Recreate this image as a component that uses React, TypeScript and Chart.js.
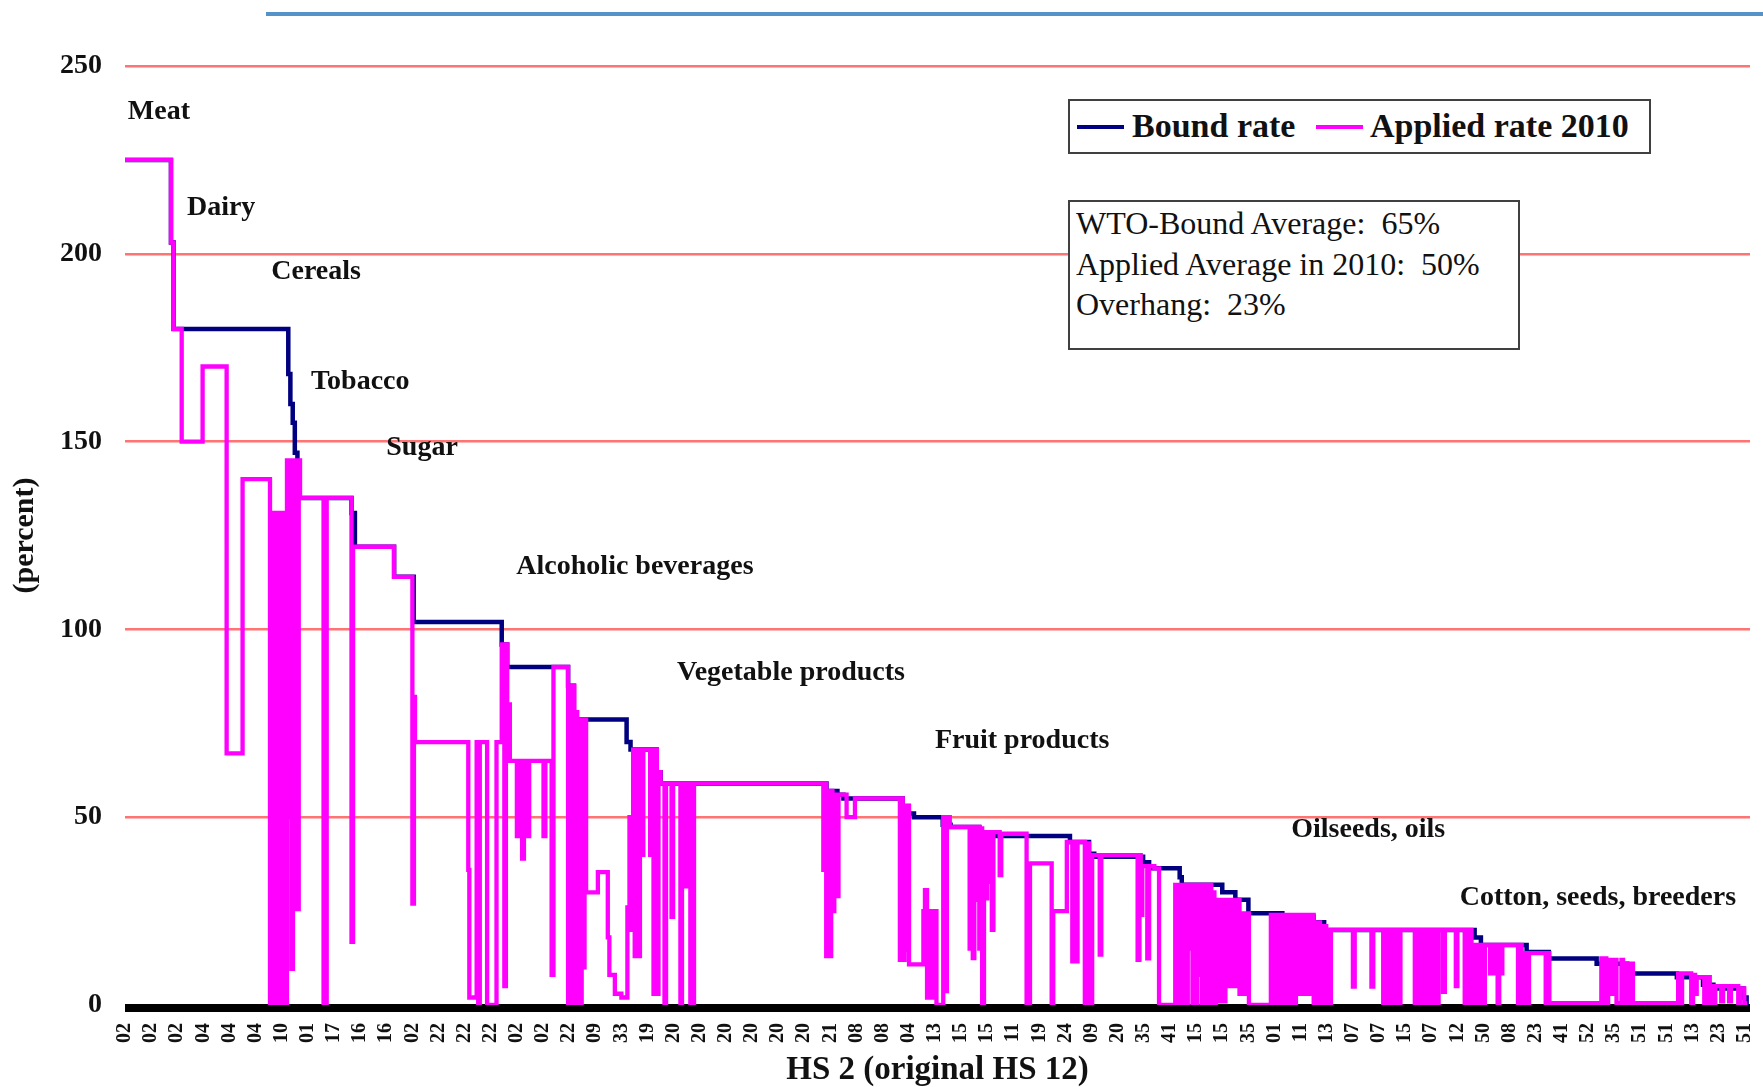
import React, { useEffect, useRef } from 'react';
import { Chart, registerables } from 'chart.js';

Chart.register(...registerables);

const FONT = "'Liberation Serif', 'Times New Roman', Times, serif";

// HS2 chapter label shown for every 10th tariff line (sorted by bound rate)
const hsLabels = [
  '02', '02', '02', '04', '04', '04', '10', '01', '17', '16', '16', '02', '22', '22', '22', '02',
  '02', '22', '09', '33', '19', '20', '20', '20', '20', '20', '20', '21', '08', '08', '04', '13',
  '15', '15', '11', '19', '24', '09', '20', '35', '41', '15', '15', '35', '01', '11', '13', '07',
  '07', '15', '07', '12', '50', '08', '23', '41', '52', '35', '51', '51', '13', '23', '51',
];

// [tariff-line index, rate %] — step series (value holds until the next index)
const boundRate: [number, number][] = [
  [0, 225], [17.6, 203], [18.6, 180], [62.5, 168], [63.3, 160], [64.2, 155], [65, 147], [66, 135],
  [86.7, 131], [88, 122], [103, 114], [110.5, 102], [144.2, 96], [146.3, 90], [169.6, 85], [171.8, 76],
  [192, 70], [193.5, 68], [203.5, 62], [205, 59], [268.5, 57], [272.7, 56], [275, 55], [297.7, 53],
  [300, 51], [302, 50], [313, 48], [316, 47.4], [327, 46], [333, 45], [361.7, 43.4], [369, 40.3],
  [371, 39.5], [389.7, 38], [392, 36.4], [403.7, 34], [404.5, 32], [420, 30], [425, 28], [430, 24.4],
  [443, 23.5], [455, 22], [459, 20], [516.6, 18], [519, 16], [536.5, 14.1], [545, 12.4], [563.3, 11],
  [575, 8.4], [594, 7.4], [604, 5.4], [608, 4.4], [619.5, 2], [620.7, 0],
];

const appliedRate: [number, number][] = [
  [0, 225], [17.6, 203], [18.6, 180], [21.7, 150], [29.7, 170], [38.9, 67], [45, 140],
  [55.5, 0], [56.1, 131], [56.7, 0], [57.3, 131], [57.9, 0], [58.5, 131], [59.1, 0], [59.7, 131],
  [60.3, 0], [60.9, 131], [61.5, 0], [62, 145], [62.6, 50], [63.2, 145], [63.7, 9.6], [64.3, 145],
  [64.8, 41], [65.4, 145], [65.9, 25.5], [66.5, 145], [67, 135], [76, 0], [77.2, 135],
  [86.7, 16.8], [87.3, 122], [103, 114], [110, 27], [110.6, 82], [111, 70],
  [131.4, 36], [131.8, 2], [134.6, 70], [135.2, 0], [135.8, 70], [138.6, 0], [142.2, 70],
  [144.2, 96], [145.2, 5], [145.8, 96], [146.3, 80], [147.3, 65],
  [150, 45], [150.7, 65], [152, 39], [152.7, 65], [154, 45], [154.7, 65], [160.2, 45], [160.9, 65],
  [163.3, 8], [164, 90], [169.6, 0], [170.3, 85], [170.8, 0], [171.5, 85], [172, 0], [172.6, 78],
  [173.1, 0], [173.7, 76], [174.2, 0], [174.8, 76], [175.3, 10], [175.9, 76], [176.5, 30],
  [181, 35.4], [184.8, 18], [185.4, 8], [187.5, 3], [190, 2], [192.3, 26], [193.1, 50], [193.8, 20],
  [194.5, 68], [195.1, 13], [195.8, 68], [196.4, 13], [197.1, 68], [197.7, 40], [198.4, 68],
  [201, 40], [201.6, 68], [202.3, 3], [202.9, 68], [203.6, 3], [204.2, 62], [205, 59],
  [206.5, 0], [207.1, 59], [209.2, 23.5], [209.8, 59], [212.6, 0], [213.2, 59], [214.2, 31.6],
  [214.8, 59], [216.4, 0], [217.8, 59], [267.3, 36], [268, 59], [268.4, 13], [269.1, 57],
  [269.6, 13], [270.3, 57], [270.8, 25], [271.5, 56], [272.3, 29], [273.1, 56], [276.2, 50],
  [279.4, 55], [296.6, 12], [297.2, 55], [297.7, 12], [298.4, 53], [298.9, 14.7], [299.6, 53],
  [300.1, 10.8], [305.6, 25], [306.2, 30.6], [307, 2], [307.6, 25], [308.2, 2], [308.8, 25],
  [309.4, 2], [310, 25], [310.6, 0], [313.2, 50], [313.9, 3.7], [314.6, 50], [315.7, 47.4],
  [323.3, 15], [323.9, 47.4], [324.5, 12.5], [325.1, 47.4], [325.7, 28], [326.3, 47.4], [327, 15],
  [327.6, 47], [328.1, 0], [328.8, 46], [329.4, 28.4], [330, 46], [330.6, 32.8], [331.2, 46],
  [331.8, 20], [332.4, 46], [334.8, 34.6], [335.4, 45.6], [345.1, 0], [346.4, 37.7], [354.7, 0],
  [355.3, 25], [360.5, 43.4], [362.6, 11.6], [363.2, 43.4], [364, 11.6], [364.6, 43.4], [367.4, 0],
  [368.2, 43], [369, 0], [370.2, 39.9], [373.1, 13.4], [373.7, 39.9], [387.6, 12], [388.3, 39.9],
  [388.8, 24], [389.4, 37], [391.3, 12.4], [392, 37], [394, 36.4], [395.8, 0],
  [402, 32], [402.6, 0], [403.2, 32], [403.8, 0], [404.4, 32], [405, 0], [405.6, 32], [406.2, 0],
  [406.8, 32], [407.4, 15], [408, 32], [408.6, 0], [409.2, 32], [409.8, 0], [410.4, 32], [411, 8],
  [411.6, 32], [412.2, 0], [412.8, 32], [413.4, 0], [414, 32], [414.6, 0], [415.2, 32], [415.8, 0],
  [416.4, 30], [417, 0], [417.6, 28], [418.2, 1], [418.8, 28], [419.4, 1], [420, 28], [420.6, 1],
  [421.2, 28], [421.8, 5], [422.4, 28], [423, 5], [423.6, 28], [424.2, 5], [424.8, 28], [425.4, 5],
  [426, 28], [426.6, 3], [427.2, 24.4], [427.8, 3], [428.4, 24.4], [429, 3], [429.6, 24.4],
  [430.2, 0], [438.6, 24], [439.2, 0], [439.8, 24], [440.4, 0], [441, 24], [441.6, 0], [442.2, 24],
  [442.8, 0], [443.4, 24], [444, 0], [444.6, 24], [445.2, 0], [445.8, 24], [446.4, 0], [447, 24],
  [447.6, 0], [448.2, 24], [449.6, 3], [450.2, 24], [451.4, 3], [452, 24], [453, 3], [453.6, 24],
  [455, 0], [455.6, 22], [456.2, 0], [456.8, 22], [457.4, 0], [458, 21], [458.6, 0], [459.2, 21],
  [459.8, 0], [460.4, 20], [461, 0], [461.6, 20], [470, 4.9], [470.7, 20], [477.1, 4.9], [477.8, 20],
  [481.6, 0], [482.2, 20], [482.8, 0], [483.4, 20], [484, 0], [484.6, 20], [485.2, 0], [485.8, 20],
  [486.4, 0], [487, 20], [487.6, 0], [488.2, 20], [493.7, 0], [494.3, 20], [494.9, 0], [495.5, 20],
  [496.1, 0], [496.7, 20], [497.3, 0], [497.9, 20], [498.5, 0], [499.1, 20], [499.7, 0], [500.3, 20],
  [500.9, 0], [501.5, 20], [502.1, 0], [502.8, 20], [504.5, 3.5], [505.2, 20], [509.4, 5], [510, 20],
  [512.8, 0], [513.5, 20], [514.2, 0], [514.8, 20], [515.4, 0], [516.1, 16], [517.5, 0], [518.1, 16],
  [518.7, 0], [519.3, 16], [519.9, 0], [520.5, 16], [522.5, 8.4], [523.1, 16], [524, 8.4], [524.6, 16],
  [525.4, 0], [526, 16], [526.6, 8.4], [527.2, 16], [533.2, 0], [534, 16], [534.6, 0], [535.2, 13.8],
  [536.6, 0], [537.4, 13.8], [543.8, 0], [544.6, 13.8], [545.2, 0.5], [565.1, 12.4], [565.7, 0.5],
  [566.4, 12.4], [567, 0.5], [567.7, 12], [568.3, 3], [569, 12], [569.6, 3], [570.3, 12], [570.9, 0.5],
  [572.8, 12], [573.4, 0.5], [574, 11], [574.6, 0.5], [575.3, 11], [575.9, 0.5], [576.6, 11],
  [577.2, 0.5], [594.5, 8.4], [595.2, 0.5], [596, 8.4], [599.5, 0.5], [600.2, 8], [601, 3],
  [601.6, 7.4], [604.5, 0.5], [605.3, 7.4], [606.6, 0.5], [607.3, 5], [608, 0.5], [608.7, 5],
  [611, 1], [611.7, 5], [614, 1], [614.7, 5], [617.5, 0.5], [618.1, 4.4], [619.8, 0.5], [621, 0.5],
];

// product-group annotations: left edge (tariff-line index) and vertical centre (%)
const sectorNames = [
  'Meat', 'Dairy', 'Cereals', 'Tobacco', 'Sugar', 'Alcoholic beverages', 'Vegetable products',
  'Fruit products', 'Oilseeds, oils', 'Cotton, seeds, breeders',
];
const sectorX = [1.1, 23.7, 56, 71.2, 100, 149.8, 211.3, 310, 446.4, 510.9];
const sectorY = [237.8, 212.3, 195.3, 166, 148.3, 116.6, 88.5, 70.3, 46.6, 28.5];

const statsLines = ['WTO-Bound Average:  65%', 'Applied Average in 2010:  50%', 'Overhang:  23%'];

const BOUND_COLOR = '#000080';
const APPLIED_COLOR = '#ff00ff';

export default function App() {
  const ref = useRef<HTMLCanvasElement>(null);

  useEffect(() => {
    const canvas = ref.current;
    if (!canvas) return;

    const decorations = {
      id: 'decorations',
      beforeDatasetsDraw(chart: any) {
        const { ctx, chartArea } = chart;
        const y0 = chart.scales.y.getPixelForValue(0);
        ctx.save();
        ctx.fillStyle = '#000';
        ctx.fillRect(chartArea.left, y0 - 1, chartArea.right - chartArea.left, 8);
        ctx.restore();
      },
      afterDatasetsDraw(chart: any) {
        const { ctx } = chart;
        const xs = chart.scales.x;
        const ys = chart.scales.y;
        ctx.save();
        ctx.font = `bold 28px ${FONT}`;
        ctx.fillStyle = '#111';
        ctx.textAlign = 'left';
        ctx.textBaseline = 'middle';
        sectorNames.forEach((name, i) => {
          ctx.fillText(name, xs.getPixelForValue(sectorX[i]), ys.getPixelForValue(sectorY[i]));
        });
        ctx.restore();
      },
    };

    const chart = new Chart(canvas, {
      type: 'line',
      data: {
        datasets: [
          {
            label: 'Applied rate 2010',
            data: appliedRate.map(([x, y]) => ({ x, y })),
            borderColor: APPLIED_COLOR,
            backgroundColor: APPLIED_COLOR,
            borderWidth: 4.3,
            stepped: true,
            pointRadius: 0,
            fill: false,
            order: 0,
            borderJoinStyle: 'miter',
          },
          {
            label: 'Bound rate',
            data: boundRate.map(([x, y]) => ({ x, y })),
            borderColor: BOUND_COLOR,
            backgroundColor: BOUND_COLOR,
            borderWidth: 4.5,
            stepped: true,
            pointRadius: 0,
            fill: false,
            order: 1,
            borderJoinStyle: 'miter',
          },
        ],
      },
      options: {
        responsive: false,
        animation: false,
        devicePixelRatio: 1,
        events: [],
        layout: { padding: { top: 66, right: 13, left: 0, bottom: 0 } },
        plugins: { legend: { display: false }, tooltip: { enabled: false } },
        scales: {
          x: {
            type: 'linear',
            min: 0,
            max: 622,
            grid: { display: false, drawTicks: false },
            border: { display: false },
            afterBuildTicks: (scale: any) => {
              scale.ticks = hsLabels.map((_, i) => ({ value: i * 10 }));
            },
            afterFit: (scale: any) => {
              scale.height = 82;
              scale.paddingLeft = 0;
              scale.paddingRight = 0;
            },
            ticks: {
              autoSkip: false,
              minRotation: 90,
              maxRotation: 90,
              padding: 18,
              color: '#111',
              font: { family: FONT, size: 20, weight: 'bold' },
              callback: (_v: any, i: number) => hsLabels[i],
            },
            title: {
              display: true,
              text: 'HS 2 (original HS 12)',
              color: '#111',
              font: { family: FONT, size: 33, weight: 'bold', lineHeight: 1 },
              padding: { top: 0, bottom: 0 },
            },
          },
          y: {
            min: 0,
            max: 250,
            afterFit: (scale: any) => {
              scale.width = 125;
              scale.paddingTop = 0;
              scale.paddingBottom = 0;
            },
            grid: { color: '#ff7373', lineWidth: 2.5, drawTicks: false },
            border: { display: false },
            ticks: {
              stepSize: 50,
              padding: 23,
              color: '#111',
              font: { family: FONT, size: 28, weight: 'bold' },
            },
            title: {
              display: true,
              text: '(percent)',
              color: '#111',
              font: { family: FONT, size: 30, weight: 'bold' },
              padding: { top: 7, bottom: 0 },
            },
          },
        },
      } as any,
      plugins: [decorations],
    });

    return () => chart.destroy();
  }, []);

  const textBase: React.CSSProperties = {
    position: 'absolute',
    fontFamily: FONT,
    color: '#111',
    whiteSpace: 'pre',
    height: 40,
    lineHeight: '40px',
  };

  return (
    <div
      style={{
        position: 'fixed',
        left: 0,
        top: 0,
        width: 1763,
        height: 1087,
        background: '#fff',
        overflow: 'hidden',
      }}
    >
      <canvas ref={ref} width={1763} height={1087} style={{ position: 'absolute', left: 0, top: 0 }} />
      <div style={{ position: 'absolute', left: 266, top: 12, width: 1497, height: 4, background: '#5592c8' }} />

      {/* legend */}
      <div
        style={{
          position: 'absolute',
          left: 1068,
          top: 99,
          width: 583,
          height: 55,
          boxSizing: 'border-box',
          border: '2px solid #404040',
          background: '#fff',
        }}
      />
      <div style={{ position: 'absolute', left: 1077, top: 125, width: 47, height: 4, background: BOUND_COLOR }} />
      <div style={{ ...textBase, left: 1132, top: 106, fontSize: 34, fontWeight: 'bold' }}>Bound rate</div>
      <div style={{ position: 'absolute', left: 1316, top: 125, width: 47, height: 4, background: APPLIED_COLOR }} />
      <div style={{ ...textBase, left: 1370, top: 106, fontSize: 34, fontWeight: 'bold' }}>Applied rate 2010</div>

      {/* stats box */}
      <div
        style={{
          position: 'absolute',
          left: 1068,
          top: 200,
          width: 452,
          height: 150,
          boxSizing: 'border-box',
          border: '2px solid #404040',
          background: '#fff',
        }}
      />
      {statsLines.map((t, i) => (
        <div key={t} style={{ ...textBase, left: 1076, top: 203 + i * 40.5, fontSize: 32 }}>
          {t}
        </div>
      ))}
    </div>
  );
}
